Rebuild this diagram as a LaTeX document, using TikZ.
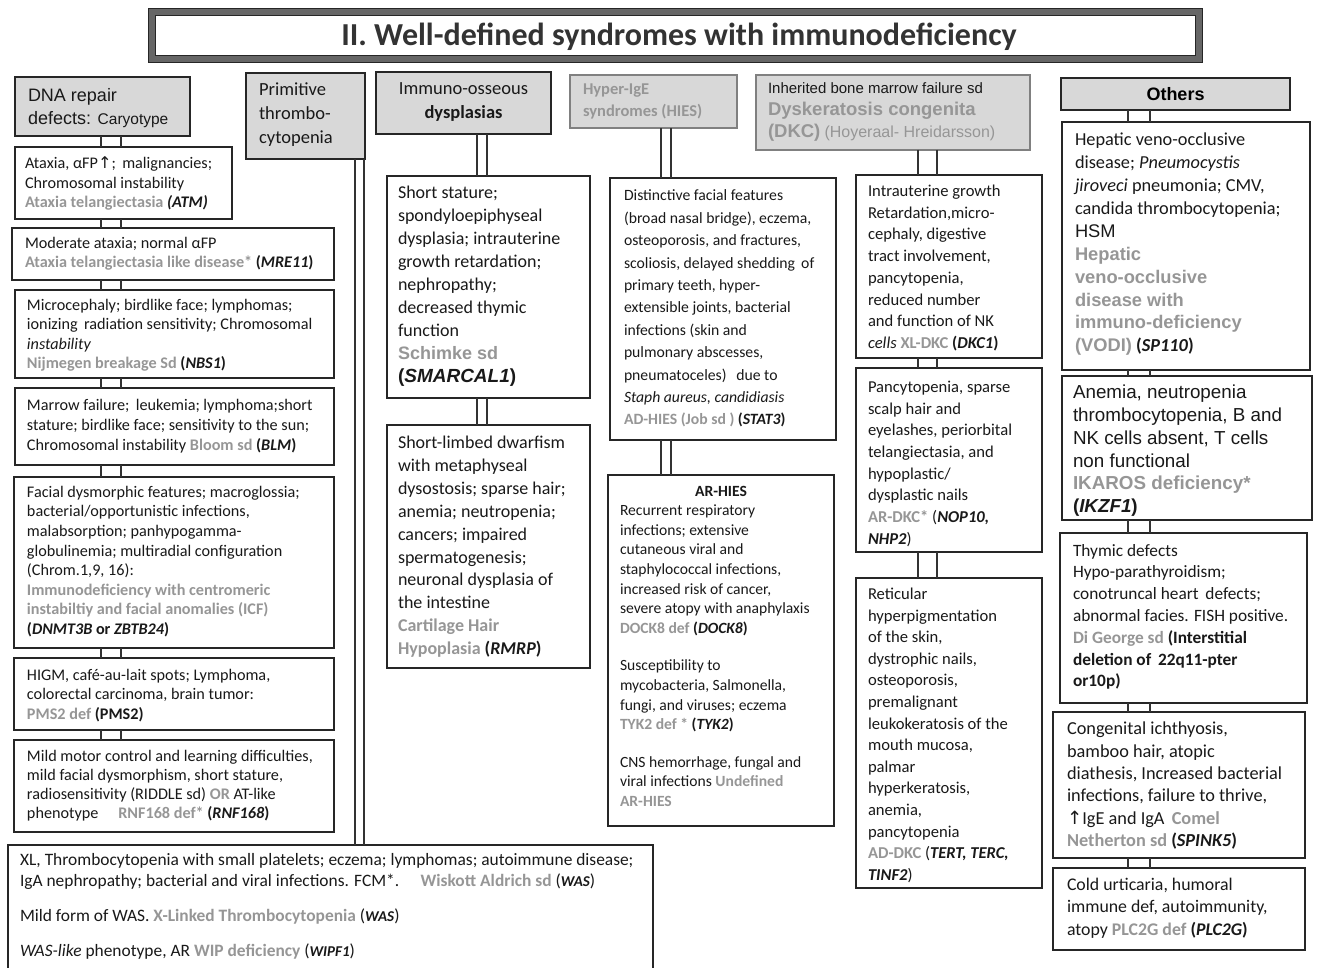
\documentclass[tikz,border=0pt]{standalone}
\usepackage{fontspec}
\setmainfont{Carlito}
\newfontfamily\arialf{Liberation Sans}
\newfontfamily\symf{DejaVu Sans}
\usetikzlibrary{calc}
\definecolor{grayt}{RGB}{150,150,150}
\definecolor{hdrfill}{RGB}{216,216,216}
\newcommand\gr[1]{{\bfseries\color{grayt}#1}}
\newcommand\gn[1]{\textbf{\textit{#1}}}
\newcommand\fs[2]{\fontsize{#1}{#2}\selectfont}
\newcommand\uparr{{\symf ↑}}
% a box given by its corners (x1,y1) (x2,y2), y measured downwards
\newcommand\bx[6][box]{\node[#1, minimum width={(#5)-(#3)}, minimum height={(#6)-(#4)}] (#2) at (#3,#4) {};}
% a double-line connector between two stacked boxes at two x positions
\newcommand\pipe[4]{\draw[pipe] (#1.south -| #3) -- (#2.north -| #3);\draw[pipe] (#1.south -| #4) -- (#2.north -| #4);}
\tikzset{
  box/.style={draw=black!85, line width=1.3pt, fill=white, inner sep=0pt, outer sep=0pt, anchor=north west},
  hdr/.style={draw=black!85, line width=2.8pt, fill=hdrfill, inner sep=0pt, outer sep=0pt, anchor=north west},
  hdrlight/.style={hdr, draw=black!50},
  strong/.style={box, line width=2.6pt},
  txt/.style={anchor=north west, inner sep=0pt, outer sep=0pt, align=left, text=black!90},
  ctxt/.style={anchor=north, inner sep=0pt, outer sep=0pt, align=center, text=black!90},
  pipe/.style={draw=black!80, line width=1.1pt},
}
\begin{document}
\begin{tikzpicture}[x=1pt,y=-1pt]
\path[use as bounding box] (0,0) rectangle (1318,968);
\clip (0,0) rectangle (1318,968);

% ---------- title ----------
\node[draw=black!60, line width=7pt, fill=white, minimum width=1047pt, minimum height=47pt,
      anchor=north west, inner sep=0pt, outer sep=0pt] (title) at (152,12) {};
\draw[line width=0.9pt, black!85] ([xshift=-3.5pt,yshift=3.5pt]title.north west) rectangle ([xshift=3.5pt,yshift=-3.5pt]title.south east);
\draw[line width=0.9pt, black!85] ([xshift=3.5pt,yshift=-3.5pt]title.north west) rectangle ([xshift=-3.5pt,yshift=3.5pt]title.south east);
\node[inner sep=0pt, text=black!80, font=\fs{32}{36}\bfseries] (titlet) at (679,37) {II. Well-defined syndromes with immunodeficiency};

% ---------- column headers ----------
\bx[hdr]{h1}{15}{77}{190}{136}
\node[txt, font=\arialf\fs{18}{23}] (h1t) at ($(h1.north west)+(13,11)$) {DNA repair\\defects: {\fs{15.5}{23}Caryotype}};
\bx[hdr]{h2}{246}{73}{365}{159}
\node[txt, font=\fs{18.5}{24}] (h2t) at ($(h2.north west)+(13,10)$) {Primitive\\thrombo-\\cytopenia};
\bx[hdr]{h3}{376}{72}{551}{134}
\node[ctxt, font=\fs{18.5}{24}] (h3t) at ($(h3.north)+(0,11)$) {Immuno-osseous\\\textbf{dysplasias}};
\bx[hdrlight]{h4}{570}{75}{737}{128}
\node[txt, font=\fs{16.5}{22}] (h4t) at ($(h4.north west)+(13,9)$) {\gr{Hyper-IgE}\\\gr{syndromes (HIES)}};
\bx[hdrlight]{h5}{756}{75}{1030}{150}
\node[txt, font=\arialf\fs{15}{22}] (h5t) at ($(h5.north west)+(12,8)$) {Inherited bone marrow failure sd\\
  {\fs{18.5}{22}\gr{Dyskeratosis congenita}}\\
  {\fs{18.5}{22}\gr{(DKC)}} {\fs{16}{22}\color{grayt}(Hoyeraal- Hreidarsson)}};
\bx[hdr]{h6}{1061}{78}{1290}{110}
\node[inner sep=0pt, font=\arialf\fs{18}{22}\bfseries] (h6t) at (h6.center) {Others};

% ---------- x positions of the double connectors ----------
\coordinate (L1) at (101,0);  \coordinate (L2) at (121,0);
\coordinate (P1) at (355,0);  \coordinate (P2) at (364,0);
\coordinate (B1x) at (477,0); \coordinate (B2x) at (487,0);
\coordinate (C1x) at (661,0); \coordinate (C2x) at (671,0);
\coordinate (D1x) at (918,0); \coordinate (D2x) at (937,0);
\coordinate (E1x) at (1128,0);\coordinate (E2x) at (1150,0);

% ---------- DNA repair defects ----------
\bx{a1}{15}{147}{232}{219}
\node[txt, font=\fs{16.2}{19.5}] (a1t) at ($(a1.north west)+(10,10)$) {Ataxia, αFP\uparr;\, malignancies;\\Chromosomal instability\\\gr{Ataxia telangiectasia} \gn{(ATM)}};
\bx{a2}{12}{228}{334}{280}
\node[txt, font=\fs{16.2}{19.5}] (a2t) at ($(a2.north west)+(13,9)$) {Moderate ataxia; normal αFP\\\gr{Ataxia telangiectasia like disease*} \textbf{(\textit{MRE11})}};
\bx{a3}{15}{290}{334}{378}
\node[txt, font=\fs{16.2}{19.5}] (a3t) at ($(a3.north west)+(12,9)$) {Microcephaly; birdlike face; lymphomas;\\ionizing\, radiation sensitivity; Chromosomal\\\textit{instability}\\\gr{Nijmegen breakage Sd} \textbf{(\textit{NBS1})}};
\bx{a4}{15}{388}{334}{465}
\node[txt, font=\fs{16.2}{20}] (a4t) at ($(a4.north west)+(12,11)$) {Marrow failure;\, leukemia; lymphoma;short\\stature; birdlike face; sensitivity to the sun;\\Chromosomal instability \gr{Bloom sd} \textbf{(\textit{BLM})}};
\bx{a5}{14}{477}{334}{648}
\node[txt, font=\fs{16.2}{19.6}] (a5t) at ($(a5.north west)+(13,9)$) {Facial dysmorphic features; macroglossia;\\bacterial/opportunistic infections,\\malabsorption; panhypogamma-\\globulinemia; multiradial configuration\\(Chrom.1,9, 16):\\\gr{Immunodeficiency with centromeric}\\\gr{instabiltiy and facial anomalies (ICF)}\\\textbf{(\textit{DNMT3B} or \textit{ZBTB24})}};
\bx{a6}{14}{658}{334}{730}
\node[txt, font=\fs{16.2}{19.5}] (a6t) at ($(a6.north west)+(13,11)$) {HIGM, café-au-lait spots; Lymphoma,\\colorectal carcinoma, brain tumor:\\\gr{PMS2 def} \textbf{(PMS2)}};
\bx{a7}{14}{740}{334}{832}
\node[txt, font=\fs{16.2}{19.2}] (a7t) at ($(a7.north west)+(13,10)$) {Mild motor control and learning difficulties,\\mild facial dysmorphism, short stature,\\radiosensitivity (RIDDLE sd) \gr{OR} AT-like\\phenotype\quad\ \gr{RNF168 def*} \textbf{(\textit{RNF168})}};
\pipe{h1}{a1}{L1}{L2}
\pipe{a1}{a2}{L1}{L2}
\pipe{a2}{a3}{L1}{L2}
\pipe{a3}{a4}{L1}{L2}
\pipe{a4}{a5}{L1}{L2}
\pipe{a5}{a6}{L1}{L2}
\pipe{a6}{a7}{L1}{L2}

% ---------- primitive thrombocytopenia ----------
\bx{f}{8}{845}{653}{990}
\node[txt, font=\fs{17.4}{21}] (ft) at ($(f.north west)+(12,8)$) {XL, Thrombocytopenia with small platelets; eczema; lymphomas; autoimmune disease;\\
  IgA nephropathy; bacterial and viral infections. FCM*.\quad\ \gr{Wiskott Aldrich sd} ({\fs{15}{21}\gn{WAS}})\\[14pt]
  Mild form of WAS. \gr{X-Linked Thrombocytopenia} ({\fs{15}{21}\gn{WAS}})\\[14pt]
  \textit{WAS-like} phenotype, AR \gr{WIP deficiency} ({\fs{15}{21}\gn{WIPF1}})};
\pipe{h2}{f}{P1}{P2}

% ---------- immuno-osseous dysplasias ----------
\bx{b1}{387}{176}{590}{398}
\node[txt, font=\fs{18}{23}] (b1t) at ($(b1.north west)+(11,10)$) {Short stature;\\spondyloepiphyseal\\dysplasia; intrauterine\\growth retardation;\\nephropathy;\\decreased thymic\\function\\{\arialf\gr{Schimke sd}}\\{\arialf\bfseries\fs{19}{23}(\textit{SMARCAL1})}};
\bx{b2}{387}{425}{590}{668}
\node[txt, font=\fs{18}{22.9}] (b2t) at ($(b2.north west)+(11,11)$) {Short-limbed dwarfism\\with metaphyseal\\dysostosis; sparse hair;\\anemia; neutropenia;\\cancers; impaired\\spermatogenesis;\\neuronal dysplasia of\\the intestine\\\gr{Cartilage Hair}\\\gr{Hypoplasia} \textbf{(\textit{RMRP})}};
\pipe{h3}{b1}{B1x}{B2x}
\pipe{b1}{b2}{B1x}{B2x}

% ---------- hyper-IgE syndromes ----------
\bx{c1}{610}{178}{836}{440}
\node[txt, font=\fs{15.7}{22.4}] (c1t) at ($(c1.north west)+(14,12)$) {Distinctive facial features\\(broad nasal bridge), eczema,\\osteoporosis, and fractures,\\scoliosis, delayed shedding\, of\\primary teeth, hyper-\\extensible joints, bacterial\\infections (skin and\\pulmonary abscesses,\\pneumatoceles)\, \ due to\\\textit{Staph aureus, candidiasis}\\\gr{AD-HIES (Job sd )} \textbf{(\textit{STAT3})}};
\bx{c2}{608}{475}{834}{826}
\node[ctxt, font=\fs{15.6}{19.6}] (c2h) at ($(c2.north)+(0,11)$) {\textbf{AR-HIES}};
\node[txt, font=\fs{15.6}{19.6}] (c2t) at ($(c2.north west)+(12,30)$) {Recurrent respiratory\\infections; extensive\\cutaneous viral and\\staphylococcal infections,\\increased risk of cancer,\\severe atopy with anaphylaxis\\\gr{DOCK8 def} \textbf{(\textit{DOCK8})}\\[18pt]
  Susceptibility to\\mycobacteria, Salmonella,\\fungi, and viruses; eczema\\\gr{TYK2 def *} \textbf{(\textit{TYK2})}\\[18pt]
  CNS hemorrhage, fungal and\\viral infections \gr{Undefined}\\\gr{AR-HIES}};
\pipe{h4}{c1}{C1x}{C2x}
\pipe{c1}{c2}{C1x}{C2x}

% ---------- dyskeratosis congenita ----------
\bx{d1}{856}{175}{1042}{358}
\node[txt, font=\fs{16.6}{21.7}] (d1t) at ($(d1.north west)+(12,10)$) {Intrauterine growth\\Retardation,micro-\\cephaly, digestive\\tract involvement,\\pancytopenia,\\reduced number\\and function of NK\\\textit{cells} \gr{XL-DKC} \textbf{(\textit{DKC1})}};
\bx{d2}{856}{368}{1042}{552}
\node[txt, font=\fs{16.6}{21.7}] (d2t) at ($(d2.north west)+(12,13)$) {Pancytopenia, sparse\\scalp hair and\\eyelashes, periorbital\\telangiectasia, and\\hypoplastic/\\dysplastic nails\\\gr{AR-DKC*} (\gn{NOP10,}\\\gn{NHP2})};
\bx{d3}{856}{578}{1042}{888}
\node[txt, font=\fs{16.6}{21.6}] (d3t) at ($(d3.north west)+(12,10)$) {Reticular\\hyperpigmentation\\of the skin,\\dystrophic nails,\\osteoporosis,\\premalignant\\leukokeratosis of the\\mouth mucosa,\\palmar\\hyperkeratosis,\\anemia,\\pancytopenia\\\gr{AD-DKC} (\gn{TERT, TERC,}\\\gn{TINF2})};
\pipe{h5}{d1}{D1x}{D2x}
\pipe{d1}{d2}{D1x}{D2x}
\pipe{d2}{d3}{D1x}{D2x}

% ---------- others ----------
\bx[strong]{e1}{1062}{122}{1310}{370}
\node[txt, font=\fs{18.3}{22.9}] (e1t) at ($(e1.north west)+(13,11)$) {Hepatic veno-occlusive\\disease; \textit{Pneumocystis}\\\textit{jiroveci} pneumonia; CMV,\\candida thrombocytopenia;\\{\arialf HSM}\\{\arialf\gr{Hepatic}}\\{\arialf\gr{veno-occlusive}}\\{\arialf\gr{disease with}}\\{\arialf\gr{immuno-deficiency}}\\{\arialf\gr{(VODI)}} \textbf{(\textit{SP110})}};
\bx[strong]{e2}{1062}{376}{1312}{520}
\node[txt, font=\arialf\fs{18.8}{22.8}] (e2t) at ($(e2.north west)+(11,9)$) {Anemia, neutropenia\\thrombocytopenia, B and\\NK cells absent, T cells\\non functional\\\gr{IKAROS deficiency*}\\\textbf{(\textit{IKZF1})}};
\bx[strong]{e3}{1060}{533}{1307}{703}
\node[txt, font=\fs{17.3}{21.8}] (e3t) at ($(e3.north west)+(13,11)$) {Thymic defects\\Hypo-parathyroidism;\\conotruncal heart\, defects;\\abnormal facies. FISH positive.\\\gr{Di George sd} \textbf{(Interstitial}\\\textbf{deletion of\, 22q11-pter}\\\textbf{or10p)}};
\bx[strong]{e4}{1053}{712}{1305}{858}
\node[txt, font=\fs{18.3}{22.4}] (e4t) at ($(e4.north west)+(14,10)$) {Congenital ichthyosis,\\bamboo hair, atopic\\diathesis, Increased bacterial\\infections, failure to thrive,\\\uparr IgE and IgA\, \gr{Comel}\\\gr{Netherton sd} \textbf{(\textit{SPINK5})}};
\bx[strong]{e5}{1053}{868}{1305}{950}
\node[txt, font=\fs{17.8}{22.5}] (e5t) at ($(e5.north west)+(14,10)$) {Cold urticaria, humoral\\immune def, autoimmunity,\\atopy \gr{PLC2G def} \textbf{(\textit{PLC2G})}};
\pipe{h6}{e1}{E1x}{E2x}
\pipe{e1}{e2}{E1x}{E2x}
\pipe{e2}{e3}{E1x}{E2x}
\pipe{e3}{e4}{E1x}{E2x}
\pipe{e4}{e5}{E1x}{E2x}
\end{tikzpicture}
\end{document}
